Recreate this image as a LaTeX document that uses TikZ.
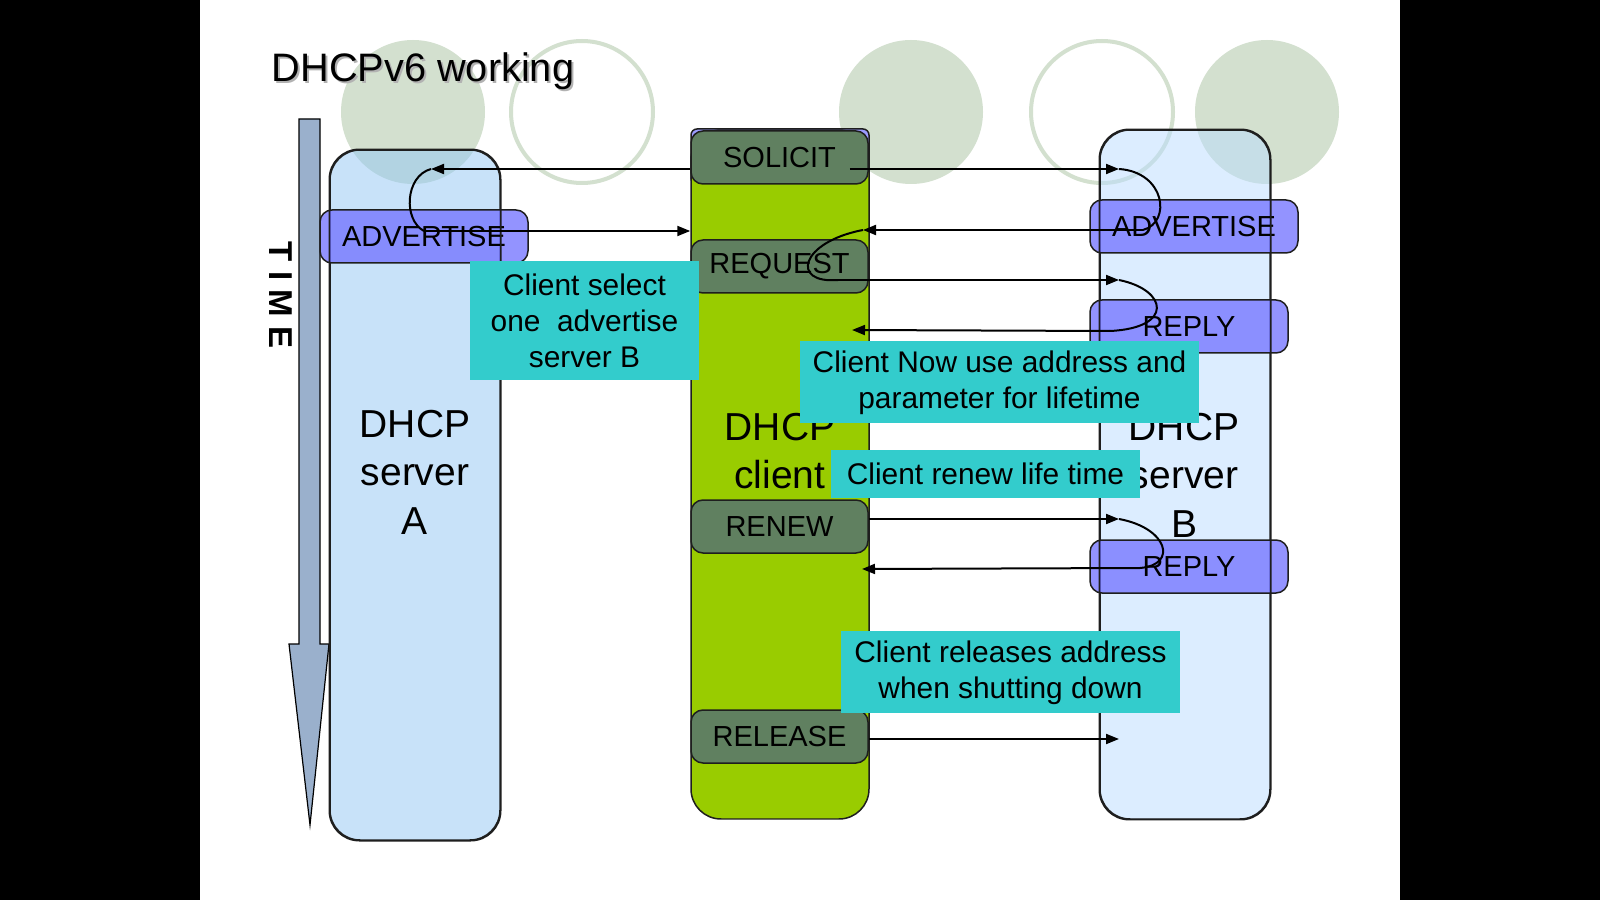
\documentclass[tikz,border=0pt]{standalone}
\usepackage{fontspec}
\setmainfont{Liberation Sans}
\usetikzlibrary{arrows.meta,positioning,calc}

\definecolor{srvAblue}{RGB}{147,199,245}
\definecolor{srvBblue}{RGB}{187,221,255}
\definecolor{clientgreen}{RGB}{153,204,0}
\definecolor{msggreen}{RGB}{96,128,96}
\definecolor{msgblue}{RGB}{112,112,255}
\definecolor{noteteal}{RGB}{51,204,204}
\definecolor{circlegreen}{RGB}{211,224,207}
\definecolor{timeblue}{RGB}{154,176,204}
\definecolor{edgegray}{RGB}{30,30,30}

\tikzset{
  lifeline/.style={draw=edgegray, line width=0.15mm, rounded corners=3mm,
    minimum width=17mm, minimum height=68.9mm, inner sep=0pt},
  lifelabel/.style={align=center, font=\fontsize{11.1}{13.8}\selectfont},
  greenmsg/.style={draw=edgegray, line width=0.15mm, fill=msggreen, rounded corners=1.2mm,
    minimum width=17.7mm, minimum height=5.3mm, inner sep=0pt, font=\fontsize{8.25}{10}\selectfont},
  bluemsg/.style={draw=edgegray, line width=0.15mm, fill=msgblue, fill opacity=0.75, text opacity=1,
    rounded corners=1.2mm, minimum height=5.3mm, inner sep=0pt, font=\fontsize{8.25}{10}\selectfont},
  note/.style={fill=noteteal, inner sep=0pt, align=center, font=\fontsize{8.5}{10.2}\selectfont},
  msg/.style={-{Triangle[length=1.3mm,width=1mm]}, line width=0.2mm},
  turn/.style={line width=0.2mm},
}

\begin{document}
\begin{tikzpicture}[x=0.1mm, y=-0.1mm]
  % slide background
  \fill[black] (0,0) rectangle (1600,900);
  \fill[white] (200,0) rectangle (1400,900);

  % decoration circles
  \fill[circlegreen] (413,112) circle[radius=7.2mm];
  \draw[circlegreen, line width=0.4mm] (582,112) circle[radius=7.1mm];
  \fill[circlegreen] (911,112) circle[radius=7.2mm];
  \draw[circlegreen, line width=0.4mm] (1102,112) circle[radius=7.1mm];
  \fill[circlegreen] (1267,112) circle[radius=7.2mm];

  % title
  \node[text=black!30, font=\fontsize{11.3}{13}\selectfont] at (425,73) {DHCPv6 working};
  \node[font=\fontsize{11.3}{13}\selectfont] (title) at (423,71) {DHCPv6 working};

  % time axis
  \draw[fill=timeblue, line width=0.12mm] (299,119) -- (320,119) -- (320,644) -- (329,644)
    -- (310,825) -- (289,644) -- (299,644) -- cycle;
  \node[rotate=-90, font=\bfseries\fontsize{9.4}{11}\selectfont] (timelabel) at (281,295) {T I M E};

  % lifelines
  \node[lifeline, fill=srvAblue, fill opacity=0.5, minimum height=69mm] (srvA) at (415,495) {};
  \node[draw=edgegray, line width=0.15mm, fill=msgblue!70, rounded corners=0.6mm,
    minimum width=17.8mm, minimum height=5.5mm] (solicitback) at (780,156.5) {};
  \node[lifeline, fill=clientgreen, minimum width=17.8mm] (client) at (780,474.5) {};
  \node[lifeline, fill=srvBblue, fill opacity=0.5] (srvB) at (1185,474.5) {};

  \node[lifelabel] (srvAlabel) at (415,472) {DHCP\\server\\A};
  \node[lifelabel] (clientlabel) at (780,451) {DHCP\\client};
  \node[lifelabel] (srvBlabel) at (1184,475) {DHCP\\server\\B};

  % messages
  \node[greenmsg] (solicit) at (779.5,157.5) {SOLICIT};
  \node[greenmsg] (request) at (779.5,266.5) {REQUEST};
  \node[greenmsg] (renew) at (779.5,526.5) {RENEW};
  \node[greenmsg] (release) at (779.5,736.5) {RELEASE};

  \node[bluemsg, minimum width=20.8mm] (advA) at (424,236.5) {ADVERTISE};
  \node[bluemsg, minimum width=20.8mm] (advB) at (1194,226.5) {ADVERTISE};
  \node[bluemsg, minimum width=19.8mm] (replyB) at (1189,326.5) {REPLY};
  \node[bluemsg, minimum width=19.8mm] (renewreplyB) at (1189,566.5) {REPLY};

  % server outlines seen through the message boxes
  \draw[edgegray, line width=0.15mm, rounded corners=3mm] (srvA.south west) rectangle (srvA.north east);
  \draw[edgegray, line width=0.15mm, rounded corners=3mm] (srvB.south west) rectangle (srvB.north east);

  % arrow ends
  \coordinate (tipA1) at (431,169);
  \coordinate (startA2) at (424,231);
  \coordinate (tipB1) at (1119,169);
  \coordinate (startB2) at (1143,230);
  \coordinate (tipC1) at (863,230);
  \coordinate (startB3) at (838,280);
  \coordinate (tipB2) at (1119,280);
  \coordinate (startB4) at (1110,331);
  \coordinate (tipC2) at (852,330);
  \coordinate (tipB3) at (1119,519);
  \coordinate (startB5) at (1140,568);
  \coordinate (tipC3) at (862,569);
  \coordinate (tipB4) at (1119,739);

  % server A
  \draw[msg] (solicit.west |- tipA1) -- (tipA1);
  \draw[turn] (tipA1) .. controls (405,176) and (403,220) .. (startA2);
  \draw[msg] (startA2) -- (startA2 -| client.west);

  % server B
  \draw[msg] ([xshift=-1.9mm]solicit.east |- tipB1) -- (tipB1);
  \draw[turn] (tipB1) .. controls (1165,172) and (1172,222) .. (startB2);
  \draw[msg] (startB2) -- (tipC1);
  \draw[turn] (tipC1) .. controls (800,242) and (790,284) .. (startB3);
  \draw[msg] (startB3) -- (tipB2);
  \draw[turn] (tipB2) .. controls (1168,290) and (1174,328) .. (startB4);
  \draw[msg] (startB4) -- (tipC2);
  \draw[msg] (renew.east |- tipB3) -- (tipB3);
  \draw[turn] (tipB3) .. controls (1168,528) and (1178,565) .. (startB5);
  \draw[msg] (startB5) -- (tipC3);
  \draw[msg] (release.east |- tipB4) -- (tipB4);

  % notes
  \node[note, minimum width=22.9mm, minimum height=11.9mm] (noteselect) at (584.5,320.5)
    {Client select\\one\ \ advertise\\server B};
  \node[note, minimum width=39.9mm, minimum height=8.2mm] (noteuse) at (999.5,382)
    {\rule{0pt}{2.4mm}Client Now use address and\\parameter for lifetime};
  \node[note, minimum width=30.9mm, minimum height=4.8mm] (noterenew) at (985.5,474)
    {Client renew life time};
  \node[note, minimum width=33.9mm, minimum height=8.2mm] (noterelease) at (1010.5,672)
    {\rule{0pt}{2.4mm}Client releases address\\when shutting down};
\end{tikzpicture}
\end{document}
